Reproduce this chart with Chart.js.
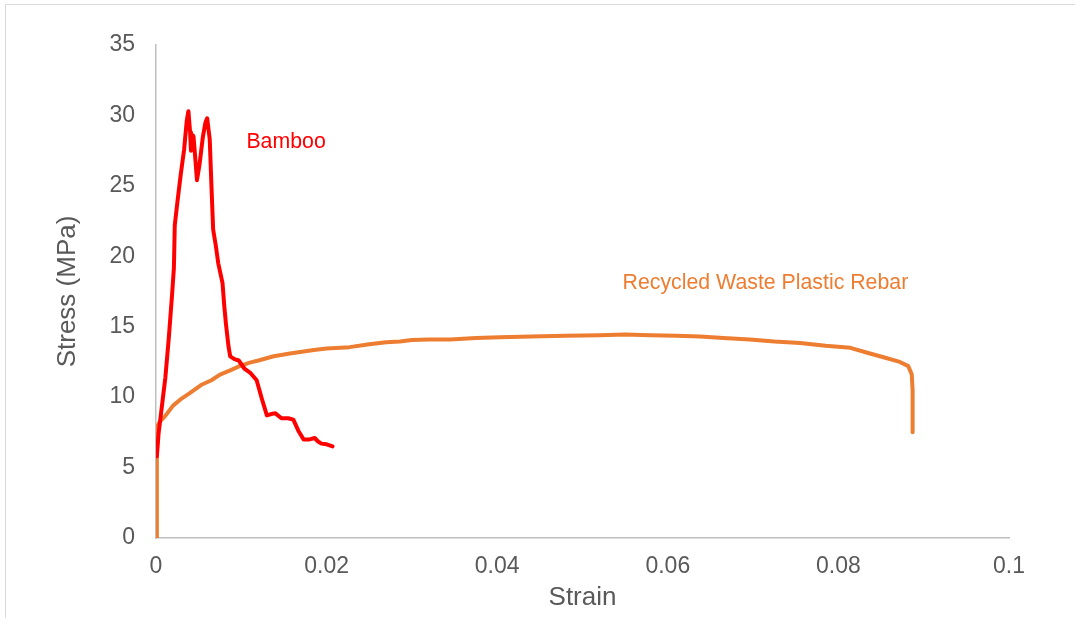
<!DOCTYPE html>
<html>
<head>
<meta charset="utf-8">
<script src="https://cdn.jsdelivr.net/npm/chart.js@4/dist/chart.umd.min.js"></script>
<style>
  html, body { margin: 0; padding: 0; background: #fff; overflow: hidden; }
  #wrap { position: relative; width: 1075px; height: 618px; overflow: hidden; }
  #frame { position: absolute; left: 5px; top: 4px; width: 1200px; height: 800px; border: 1px solid #d9d9d9; }
  canvas { position: absolute; left: 0; top: 0; }
</style>
</head>
<body>
<div id="wrap">
  <div id="frame"></div>
  <canvas id="chart" width="1075" height="618"></canvas>
</div>
<script>
// Bamboo - strain / stress (MPa)
const bambooStrain = [0.0001, 0.0003, 0.0005, 0.0008, 0.0011, 0.0015, 0.0019, 0.0021, 0.0022, 0.0025, 0.0029, 0.0033, 0.0036, 0.0038, 0.0040, 0.0041, 0.0043, 0.0044, 0.0046, 0.0048, 0.0051, 0.0055, 0.0058, 0.0060, 0.0063, 0.0065, 0.0067, 0.0070, 0.0073, 0.0078, 0.0080, 0.0082, 0.0085, 0.0087, 0.0092, 0.0097, 0.0104, 0.0111, 0.0118, 0.0124, 0.0130, 0.0135, 0.0140, 0.0147, 0.0155, 0.0161, 0.0167, 0.0173, 0.0180, 0.0186, 0.0190, 0.0194, 0.0200, 0.0207]
const bambooStress = [5.8, 7.4, 8.4, 9.9, 11.4, 14.2, 17.4, 19.2, 22.2, 23.8, 25.8, 27.6, 29.6, 30.3, 28.8, 27.5, 28.6, 28.5, 27.0, 25.4, 26.5, 28.5, 29.5, 29.8, 28.3, 25.0, 21.9, 20.8, 19.5, 18.1, 16.5, 15.2, 13.6, 12.9, 12.7, 12.6, 12.0, 11.7, 11.2, 9.9, 8.7, 8.8, 8.85, 8.5, 8.5, 8.4, 7.6, 7.0, 7.0, 7.1, 6.85, 6.7, 6.65, 6.5]

// Recycled waste plastic rebar - strain / stress (MPa)
const rebarStrain = [0, 0.0001, 0.0002, 0.0005, 0.0010, 0.0015, 0.0020, 0.0030, 0.0040, 0.0054, 0.0065, 0.0075, 0.0087, 0.0098, 0.0110, 0.0120, 0.0138, 0.0157, 0.0169, 0.0185, 0.0200, 0.0227, 0.0250, 0.0270, 0.0286, 0.0300, 0.0320, 0.0345, 0.0375, 0.0403, 0.0440, 0.0480, 0.0520, 0.0550, 0.0580, 0.0610, 0.0638, 0.0665, 0.0696, 0.0725, 0.0755, 0.0785, 0.0814, 0.0837, 0.0855, 0.0872, 0.0882, 0.0886, 0.0887, 0.0887, 0.0887]
const rebarStress = [0, 5.8, 8.0, 8.3, 8.6, 9.0, 9.4, 9.9, 10.3, 10.9, 11.2, 11.6, 11.9, 12.2, 12.45, 12.6, 12.9, 13.1, 13.2, 13.35, 13.45, 13.55, 13.75, 13.9, 13.95, 14.05, 14.1, 14.1, 14.2, 14.25, 14.3, 14.35, 14.4, 14.45, 14.4, 14.35, 14.3, 14.2, 14.1, 13.95, 13.85, 13.65, 13.5, 13.1, 12.8, 12.5, 12.2, 11.6, 10.5, 9.6, 7.5]

const xTicks = [0, 0.02, 0.04, 0.06, 0.08, 0.1]
const yTicks = [0, 5, 10, 15, 20, 25, 30, 35]

// series labels, placed in data units
const labels = [
  { text: 'Bamboo', x: 0.0106, y: 28.1, color: '#ff0000' },
  { text: 'Recycled Waste Plastic Rebar', x: 0.0547, y: 18.1, color: '#ed7d31' }
]

const toPoints = (xs, ys) => xs.map((x, i) => ({ x: x, y: ys[i] }))

const seriesLabels = {
  id: 'seriesLabels',
  afterDatasetsDraw(chart) {
    const ctx = chart.ctx
    const xs = chart.scales.x
    const ys = chart.scales.y
    ctx.save()
    ctx.font = '21.3px "Liberation Sans", Arial, sans-serif'
    ctx.textAlign = 'left'
    ctx.textBaseline = 'middle'
    for (let l of labels) {
      ctx.fillStyle = l.color
      ctx.fillText(l.text, xs.getPixelForValue(l.x), ys.getPixelForValue(l.y))
    }
    ctx.restore()
  }
}

const tickFont = { family: '"Liberation Sans", Arial, sans-serif', size: 23 }
const titleFont = { family: '"Liberation Sans", Arial, sans-serif', size: 26 }

new Chart(document.getElementById('chart'), {
  type: 'scatter',
  data: {
    datasets: [
      {
        label: 'Bamboo',
        data: toPoints(bambooStrain, bambooStress),
        showLine: true,
        borderColor: '#ff0000',
        borderWidth: 4,
        borderJoinStyle: 'round',
        borderCapStyle: 'round',
        pointRadius: 0,
        tension: 0
      },
      {
        label: 'Recycled Waste Plastic Rebar',
        data: toPoints(rebarStrain, rebarStress),
        showLine: true,
        borderColor: '#ed7d31',
        borderWidth: 4,
        borderJoinStyle: 'round',
        borderCapStyle: 'round',
        pointRadius: 0,
        tension: 0
      }
    ]
  },
  options: {
    responsive: false,
    animation: false,
    layout: { padding: { left: 0, top: 45, right: 66, bottom: 0 } },
    plugins: { legend: { display: false }, tooltip: { enabled: false } },
    scales: {
      x: {
        type: 'linear',
        min: 0,
        max: 0.1,
        afterFit(scale) { scale.height = 80 },
        afterBuildTicks(scale) { scale.ticks = xTicks.map(v => ({ value: v })) },
        ticks: {
          color: '#595959',
          font: tickFont,
          padding: 15,
          maxRotation: 0,
          callback: v => String(v)
        },
        grid: { display: true, drawOnChartArea: false, drawTicks: false },
        border: { color: '#bfbfbf', width: 1.5 },
        title: { display: true, text: 'Strain', color: '#595959', font: titleFont, padding: { top: 0, bottom: 5 } }
      },
      y: {
        min: 0,
        max: 35,
        afterFit(scale) { scale.width = 156 },
        afterBuildTicks(scale) { scale.ticks = yTicks.map(v => ({ value: v })) },
        ticks: { color: '#595959', font: tickFont, padding: 21 },
        grid: { display: true, drawOnChartArea: false, drawTicks: false },
        border: { color: '#bfbfbf', width: 1.5 },
        title: { display: true, text: 'Stress (MPa)', color: '#595959', font: titleFont, padding: { top: 52, bottom: 0 } }
      }
    }
  },
  plugins: [seriesLabels]
})
</script>
</body>
</html>
